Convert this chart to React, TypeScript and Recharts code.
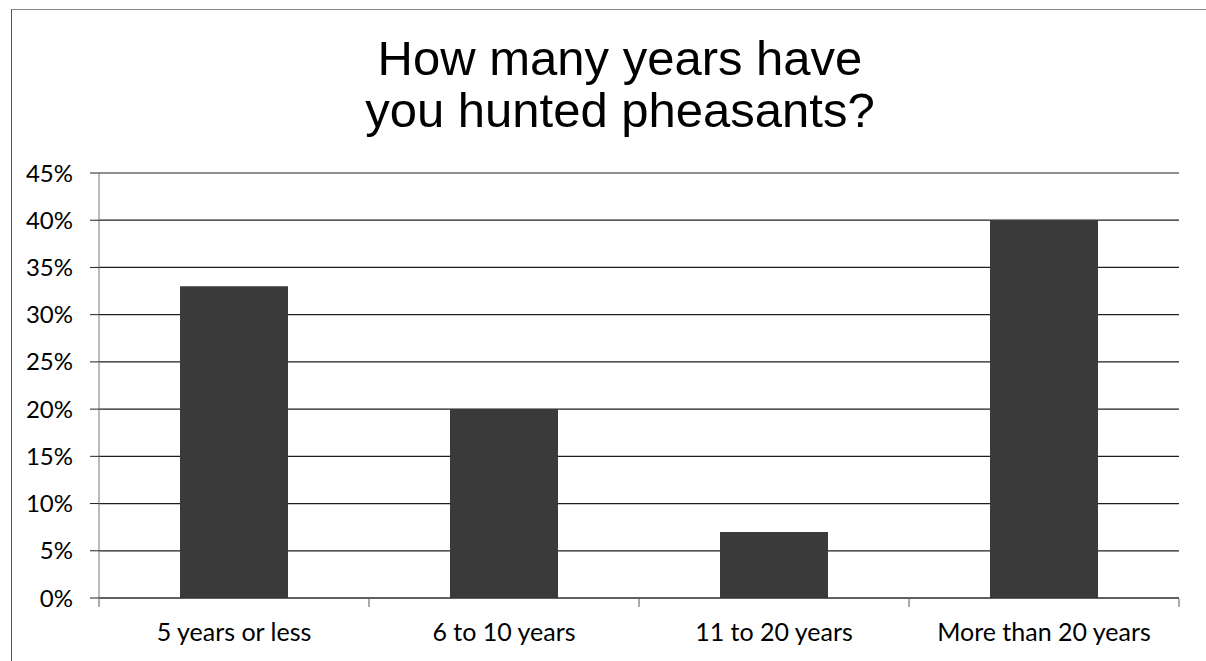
import { Bar, BarChart, CartesianGrid, XAxis, YAxis } from 'recharts'

const categories = ['5 years or less', '6 to 10 years', '11 to 20 years', 'More than 20 years']
const shares = [33, 20, 7, 40]
const yTicks = [0, 5, 10, 15, 20, 25, 30, 35, 40, 45]
const edgeTicks = [0, 1, 2, 3, 4]
const titleLines = ['How many years have', 'you hunted pheasants?']

const data = categories.map((name, i) => ({ name, share: shares[i], pos: i + 0.5 }))

const labelFont = 'Lato, "Open Sans", sans-serif'

export default function App() {
  return (
    <div
      style={{
        position: 'fixed',
        left: 0,
        top: 0,
        width: 1206,
        height: 661,
        background: '#fff',
        overflow: 'hidden',
      }}
    >
      <div
        style={{
          position: 'absolute',
          left: 11,
          top: 9,
          width: 1300,
          height: 800,
          borderLeft: '1px solid #555',
          borderTop: '1px solid #888',
        }}
      />
      <div
        style={{
          position: 'absolute',
          left: 320,
          top: 32,
          width: 600,
          textAlign: 'center',
          fontFamily: '"Liberation Sans", Arial, sans-serif',
          fontSize: 49,
          lineHeight: '52px',
          color: '#000',
        }}
      >
        {titleLines.map((l) => (
          <div key={l}>{l}</div>
        ))}
      </div>
      <div style={{ position: 'absolute', left: 0, top: 0 }}>
        <BarChart
          width={1206}
          height={661}
          data={data}
          margin={{ top: 173, right: 27, bottom: 53, left: 0 }}
          barCategoryGap="30%"
        >
          <CartesianGrid vertical={false} stroke="#1e1e1e" strokeWidth={1.2} />
          <XAxis
            dataKey="name"
            tickLine={false}
            tickSize={0}
            tickMargin={25}
            height={1}
            axisLine={{ stroke: '#333', strokeWidth: 1.2 }}
            tick={{ fill: '#000', fontSize: 25, fontFamily: labelFont }}
          />
          <XAxis
            xAxisId="edges"
            dataKey="pos"
            type="number"
            domain={[0, 4]}
            ticks={edgeTicks}
            tickFormatter={() => ''}
            tickSize={8}
            height={9}
            axisLine={false}
            tickLine={{ stroke: '#555' }}
          />
          <YAxis
            domain={[0, 45]}
            ticks={yTicks}
            width={99}
            tickSize={9}
            tickMargin={17}
            tickFormatter={(v) => `${v}%`}
            axisLine={{ stroke: '#777' }}
            tickLine={{ stroke: '#222' }}
            tick={{ fill: '#000', fontSize: 24, fontFamily: labelFont }}
          />
          <Bar dataKey="share" fill="#3a3a3a" isAnimationActive={false} />
        </BarChart>
      </div>
    </div>
  )
}
